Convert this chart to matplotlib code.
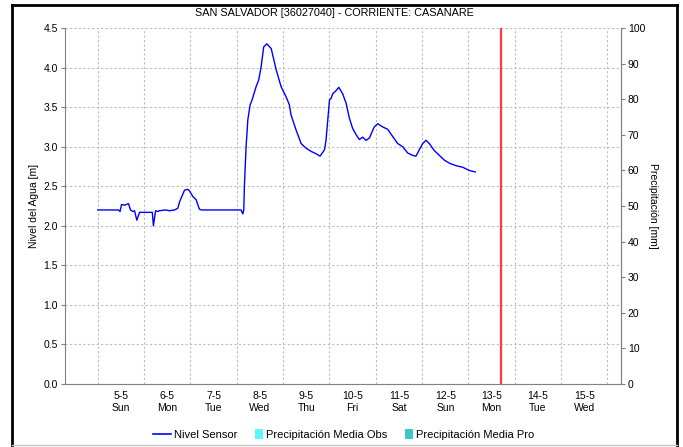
import numpy as np
import pandas as pd
import matplotlib
matplotlib.use("Agg")
import matplotlib.pyplot as plt
from matplotlib.lines import Line2D
from matplotlib.patches import Patch, Rectangle
from matplotlib.legend_handler import HandlerPatch

plt.rcParams['font.family'] = ['Liberation Sans Narrow', 'Liberation Sans', 'DejaVu Sans']

# Sensor water level, hours since 2024-05-05 00:00
hours = [0.0, 10.7, 11.5, 12.3, 13.8, 15.9, 16.9, 18.1, 19.0, 20.2, 21.6, 22.6,
         28.2, 28.8, 29.9, 31.1, 31.9, 35.0, 37.1, 39.7, 41.4, 42.3, 44.9, 46.6,
         47.5, 49.2, 50.9, 52.6, 53.7, 74.2, 75.1, 75.6, 75.9, 76.8, 77.7, 78.9,
         79.9, 82.0, 83.3, 84.6, 85.9, 87.5, 89.8, 92.4, 94.9, 97.5, 99.2, 100.1,
         102.7, 105.3, 107.9, 110.5, 113.1, 115.1, 117.4, 118.2, 119.4, 120.0,
         120.8, 121.7, 123.1, 124.8, 126.8, 128.6, 130.3, 132.0, 133.8, 135.5,
         137.2, 138.9, 140.7, 142.1, 143.2, 145.0, 147.5, 150.1, 152.7, 155.3,
         157.9, 160.5, 163.1, 164.8, 166.5, 168.3, 170.0, 171.7, 174.3, 176.9,
         179.5, 182.2, 185.5, 189.0, 192.4, 195.5]
nivel = [2.20, 2.20, 2.18, 2.27, 2.26, 2.28, 2.20, 2.18, 2.19, 2.07, 2.17, 2.17,
         2.17, 2.00, 2.19, 2.18, 2.19, 2.20, 2.19, 2.20, 2.22, 2.30, 2.45, 2.46,
         2.44, 2.37, 2.33, 2.21, 2.20, 2.20, 2.15, 2.20, 2.49, 3.00, 3.34, 3.53,
         3.59, 3.76, 3.84, 4.01, 4.26, 4.30, 4.24, 3.97, 3.76, 3.63, 3.53, 3.40,
         3.21, 3.04, 2.98, 2.94, 2.91, 2.88, 2.96, 3.08, 3.42, 3.59, 3.61, 3.67,
         3.70, 3.75, 3.67, 3.55, 3.36, 3.23, 3.15, 3.09, 3.12, 3.08, 3.11, 3.19,
         3.25, 3.29, 3.25, 3.22, 3.13, 3.04, 3.00, 2.92, 2.89, 2.88, 2.96, 3.04,
         3.08, 3.04, 2.95, 2.89, 2.83, 2.79, 2.76, 2.74, 2.70, 2.68]

start = pd.Timestamp('2024-05-05')
fechas = start + pd.to_timedelta(hours, unit='h')
ahora = pd.Timestamp('2024-05-13 16:50')
x_ini = pd.Timestamp('2024-05-04 07:00')
x_fin = pd.Timestamp('2024-05-16 07:00')

dias = pd.date_range('2024-05-05', '2024-05-15')
dias_sem = ['Sun', 'Mon', 'Tue', 'Wed', 'Thu', 'Fri', 'Sat', 'Sun', 'Mon', 'Tue', 'Wed']
etiquetas = [f"{d.day}-{d.month}\n{n}" for d, n in zip(dias, dias_sem)]

fig = plt.figure(figsize=(6.83, 4.47), dpi=100)
ax = fig.add_axes([0.0952, 0.1409, 0.814, 0.7965])

grid_kw = dict(color='#bdbdbd', linestyle=(0, (2, 2)), linewidth=0.8)

ax.plot(fechas, nivel, color='#0000ff', linewidth=1.0, zorder=3)
ax.axvline(ahora, color='#ff3b3b', linewidth=1.6, zorder=4)

ax.set_xlim(x_ini, x_fin)
ax.set_ylim(0, 4.5)
ax.set_yticks(np.arange(0, 4.51, 0.5))
ax.set_yticklabels([f"{v:.1f}" for v in np.arange(0, 4.51, 0.5)])

# labels at noon, grid at midnight
ax.set_xticks(dias + pd.Timedelta(hours=12))
ax.set_xticklabels(etiquetas)
ax.set_xticks(pd.date_range('2024-05-05', '2024-05-16'), minor=True)
ax.tick_params(axis='x', which='both', length=0, labelsize=7.5, pad=5)
ax.tick_params(axis='y', length=3, labelsize=7.5, color='#808080', pad=2)
ax.grid(False)
ax.xaxis.grid(True, which='minor', **grid_kw)
ax.yaxis.grid(True, which='major', **grid_kw)
ax.set_axisbelow(True)

ax.spines['top'].set_visible(False)
for s in ['left', 'bottom', 'right']:
    ax.spines[s].set_color('#808080')
    ax.spines[s].set_linewidth(0.8)

ax.set_ylabel('Nivel del Agua [m]', fontsize=7.5, labelpad=3)
fig.text(334/683, 1 - 13/447, 'SAN SALVADOR [36027040] - CORRIENTE: CASANARE',
         fontsize=7.8, ha='center', va='center')

ax2 = ax.twinx()
ax2.set_ylim(0, 100)
ax2.set_yticks(np.arange(0, 101, 10))
ax2.tick_params(axis='y', length=3, labelsize=7.5, color='#808080', pad=2)
for s in ['top', 'left', 'bottom']:
    ax2.spines[s].set_visible(False)
ax2.spines['right'].set_color('#808080')
ax2.spines['right'].set_linewidth(0.8)
ax2.set_ylabel('Precipitación [mm]', fontsize=7.5, rotation=270, labelpad=9)


def cuadro(legend, orig_handle, xdescent, ydescent, width, height, fontsize):
    # small square sitting at the right end of the handle box
    s = 6.0
    return Rectangle((width - xdescent - s, -ydescent - 1), s, height + 2)


handles = [Line2D([0], [0], color='#0000ff', linewidth=1.2),
           Patch(facecolor='#5ef5ff', edgecolor='none'),
           Patch(facecolor='#3cc8c8', edgecolor='none')]
nombres = ['Nivel Sensor', 'Precipitación Media Obs', 'Precipitación Media Pro']
fig.legend(handles, nombres, loc='center', bbox_to_anchor=(0.503, 0.027), ncol=3,
           frameon=False, fontsize=8.0, handlelength=1.6, handletextpad=0.25,
           columnspacing=0.75, handler_map={Patch: HandlerPatch(patch_func=cuadro)})

# outer border
borde = dict(color='black', linewidth=2, transform=fig.transFigure)
fig.add_artist(Line2D([12/683, 12/683], [0.0, 1 - 5/447], **borde))
fig.add_artist(Line2D([12/683, 677/683], [1 - 5/447, 1 - 5/447], **borde))
fig.add_artist(Line2D([677/683, 677/683], [0.0, 1 - 5/447], **borde))
fig.add_artist(Line2D([12/683, 677/683], [2/447, 2/447], color='#c8c8c8', linewidth=1,
                      transform=fig.transFigure))

fig.savefig('out.png', dpi=100)
